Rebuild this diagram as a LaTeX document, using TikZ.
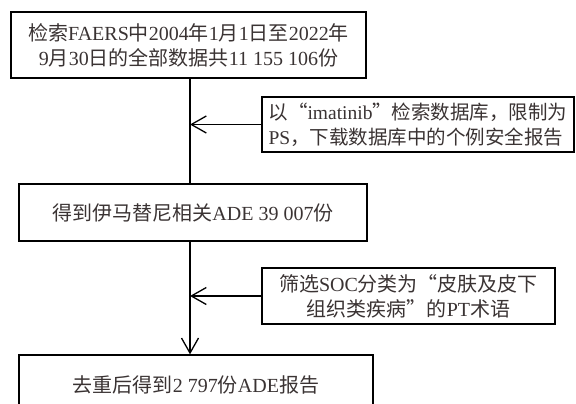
\documentclass[tikz,border=0pt]{standalone}
\usepackage{fontspec}
\setmainfont{Liberation Serif}
\newfontfamily\cjk{Noto Sans CJK SC}
\usetikzlibrary{arrows.meta}
\newcommand\zh[1]{{\cjk #1}}
\definecolor{txt}{HTML}{3A3333}
\tikzset{
  box/.style={draw=black, line width=1.3pt, inner sep=0pt, text=txt,
    font=\fontsize{20}{25}\selectfont, align=center},
  conn/.style={line width=1.3pt, draw=black},
  tip/.style={-{Straight Barb[length=15pt,width=17pt,line width=1.3pt]}}
}
\begin{document}
\begin{tikzpicture}[x=1pt,y=-1pt]
\useasboundingbox (0,0) rectangle (576,404);
\node[box, minimum width=355pt, minimum height=66pt] (b1) at (188.5,45)
  {\zh{检索}FAERS\zh{中}2004\zh{年}1\zh{月}1\zh{日至}2022\zh{年}\\
   9\zh{月}30\zh{日的全部数据共}11 155 106\zh{份}};
\node[box, minimum width=312pt, minimum height=55pt, align=left,
  font=\fontsize{19.5}{25}\selectfont] (b2) at (418,124.5)
  {\zh{以“}imatinib\zh{”检索数据库，限制为}\\
   PS\zh{，下载数据库中的个例安全报告}};
\node[box, minimum width=348pt, minimum height=57pt] (b3) at (193,212.5)
  {\zh{得到伊马替尼相关}ADE 39 007\zh{份}};
\node[box, minimum width=293pt, minimum height=56pt] (b4) at (408.5,296)
  {\zh{筛选}SOC\zh{分类为“皮肤及皮下}\\
   \zh{组织类疾病”的}PT\zh{术语}};
\node[box, minimum width=354pt, minimum height=60pt] (b5) at (196,385)
  {\zh{去重后得到}2 797\zh{份}ADE\zh{报告}};
\coordinate (lx) at (190,0);
\draw[conn] (lx |- b1.south) -- (lx |- b3.north);
\draw[conn, tip] (b2.west) -- (lx |- b2.west);
\draw[conn, tip] (lx |- b3.south) -- (lx |- b5.north);
\draw[conn, tip] (b4.west) -- (lx |- b4.west);
\end{tikzpicture}
\end{document}
